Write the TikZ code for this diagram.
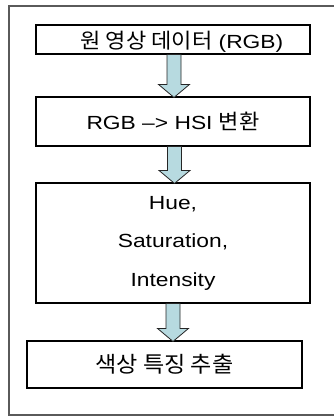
\documentclass[tikz,border=0pt]{standalone}
\usepackage{fontspec}
\setmainfont{Liberation Sans}[FakeStretch=1.2]
\newfontfamily\kr{Noto Sans CJK KR}[FakeStretch=1.05]
\usetikzlibrary{calc}
\definecolor{arrowfill}{RGB}{183,218,224}
\definecolor{framegray}{RGB}{90,90,90}
\tikzset{
  x=1pt, y=1pt,
  box/.style={draw=black, line width=1.1pt, minimum width=274pt, inner sep=0pt, align=center},
  txt/.style={inner sep=0pt, align=center, font=\fontsize{19}{22}\selectfont},
  barrow/.style={draw=black!85, line width=0.8pt, fill=arrowfill, line join=miter}
}
\newcommand{\blockarr}[3]{%
  \draw[barrow] let \p1=(#1.south), \p2=(#2.north) in
    (\x1+#3-7,\y1) -- (\x1+#3-7,\y2+12) -- (\x1+#3-15.5,\y2+12) -- (\x1+#3,\y2-1)
    -- (\x1+#3+15.5,\y2+12) -- (\x1+#3+7,\y2+12) -- (\x1+#3+7,\y1) -- cycle;}
\begin{document}
\begin{tikzpicture}
\useasboundingbox (0,0) rectangle (334,416);
\fill[white] (0,0) rectangle (334,416);
% outer frame (right side runs off the picture)
\draw[framegray, line width=1.4pt] (338,410) -- (9,410) -- (9,1) -- (338,1);
% boxes
\node[box, minimum height=29pt] (b1) at (173,376.5) {};
\node[txt] (t1) at (182,374) {{\kr\fontsize{21}{22}\selectfont 원 영상 데이터} (RGB)};
\node[box, minimum height=49pt, font=\fontsize{19}{22}\selectfont] (b2) at (173,294.5)
  {RGB \textendash> HSI {\kr\fontsize{21}{22}\selectfont 변환}};
\node[box, minimum height=120pt, font=\fontsize{19}{38.5}\selectfont] (b3) at (173,173)
  {Hue,\\Saturation,\\Intensity};
\node[box, minimum width=275pt, minimum height=47pt, font=\kr\fontsize{22}{24}\selectfont] (b4) at (164.5,51.5)
  {색상 특징 추출};
% block arrows
\blockarr{b1}{b2}{1}
\blockarr{b2}{b3}{1.5}
\blockarr{b3}{b4}{0}
\end{tikzpicture}
\end{document}
